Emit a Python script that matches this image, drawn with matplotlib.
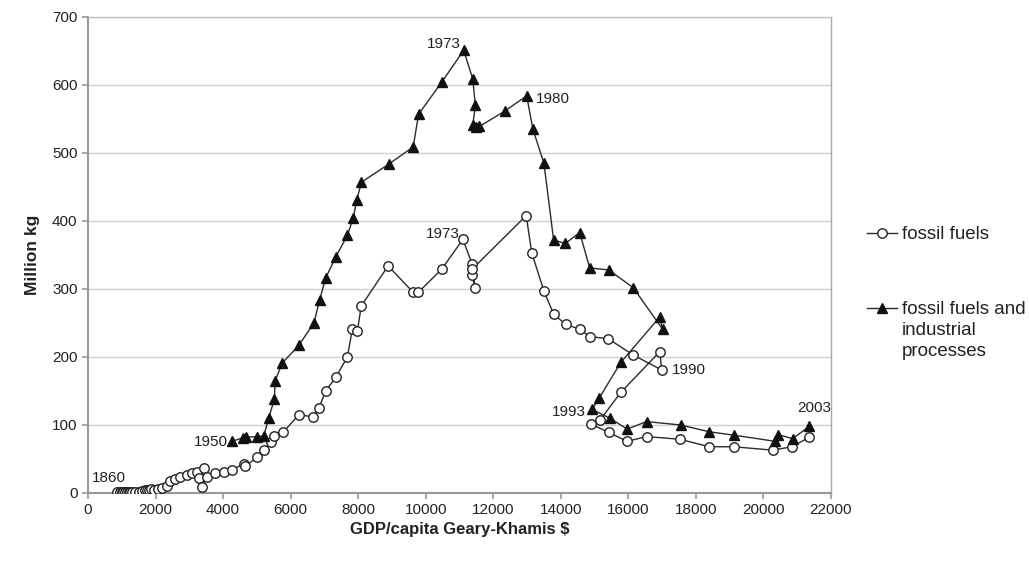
import matplotlib
matplotlib.use('Agg')
import matplotlib.pyplot as plt
import matplotlib.ticker as ticker
from matplotlib.lines import Line2D

plt.rcParams['font.family'] = ['Liberation Sans', 'DejaVu Sans']

# fossil fuels (open circles), in time order 1860 -> 2003
ff_gdp = [871, 950, 1000, 1050, 1100, 1150, 1200, 1250, 1300, 1400, 1500, 1600,
          1700, 1750, 1800, 1860, 1960, 2060, 2190, 2340, 2435, 2580, 2730, 2930,
          3080, 3230, 3440, 3280, 3375, 3520, 3770, 4020, 4266, 4610, 4662, 5009,
          5220, 5420, 5502, 5770, 6245, 6671, 6838, 7037, 7334, 7680, 7828, 7976,
          8090, 8887, 9610, 9778, 10471, 11100, 11372, 11461, 11372, 11372, 12975,
          13140, 13500, 13787, 14143, 14560, 14855, 15400, 16142, 16983, 16934,
          15776, 15172, 14905, 15420, 15965, 16538, 17527, 18397, 19130, 20270,
          20843, 21358]
ff_val = [1, 1, 1, 1, 2, 1, 2, 2, 2, 1, 2, 3,
          4, 4, 5, 6, 5, 6, 8, 10, 18, 21, 24, 26,
          29, 31, 37, 22, 9, 23, 30, 31, 34, 43, 39, 53,
          63, 75, 84, 89, 115, 112, 125, 150, 170, 200, 241, 238,
          275, 334, 296, 295, 329, 373, 337, 302, 320, 329, 408,
          353, 297, 263, 248, 241, 230, 227, 203, 181, 208,
          148, 108, 101, 89, 76, 83, 79, 68, 68, 63,
          68, 82]

# fossil fuels and industrial processes (filled triangles), 1950 -> 2003
fi_gdp = [4266, 4580, 4680, 5009, 5206, 5355, 5520, 5540, 5751, 6240, 6690, 6859,
          7037, 7334, 7680, 7858, 7957, 8096, 8916, 9630, 9788, 10471, 11125,
          11392, 11470, 11392, 11480, 11590, 12351, 12990, 13173, 13500, 13787,
          14133, 14560, 14855, 15420, 16142, 17013, 16934, 15776, 15130, 14925,
          15450, 15965, 16538, 17550, 18397, 19130, 20347, 20420, 20863, 21358]
fi_val = [76, 81, 82, 83, 84, 111, 138, 165, 191, 217, 250, 284,
          316, 347, 379, 405, 431, 457, 484, 509, 557, 604, 651,
          609, 570, 541, 538, 539, 562, 584, 535, 485, 372,
          367, 383, 331, 328, 302, 241, 259, 192, 139, 123,
          110, 94, 105, 100, 90, 85, 76, 86, 80, 98]

# year labels: (text, series, index, offset px, ha, va)
year_labels = [
    ('1860', 'ff', 0, (-9, 7), 'center', 'bottom'),
    ('1950', 'fi', 0, (-4, -1), 'right', 'center'),
    ('1973', 'fi', 22, (-3, 6), 'right', 'center'),
    ('1973', 'ff', 53, (-3, 5), 'right', 'center'),
    ('1980', 'fi', 29, (9, -3), 'left', 'center'),
    ('1990', 'ff', 67, (10, 0), 'left', 'center'),
    ('1993', 'fi', 42, (-6, -3), 'right', 'center'),
    ('2003', 'fi', 52, (5, 11), 'center', 'bottom'),
]

W, H = 1029, 561
fig = plt.figure(figsize=(W / 100, H / 100), dpi=100)
ax = fig.add_axes([88 / W, 1 - 493 / H, (831 - 88) / W, (493 - 17) / H])

ff_style = dict(color='#2a2a2a', linewidth=1.0, marker='o', markersize=6.8,
                markerfacecolor='white', markeredgecolor='#222222', markeredgewidth=1.0)
fi_style = dict(color='#2a2a2a', linewidth=1.0, marker='^', markersize=7.5,
                markerfacecolor='#111111', markeredgecolor='#111111')

ax.plot(ff_gdp, ff_val, zorder=3, **ff_style)
ax.plot(fi_gdp, fi_val, zorder=4, **fi_style)

series = {'ff': (ff_gdp, ff_val), 'fi': (fi_gdp, fi_val)}
for txt, s, i, off, ha, va in year_labels:
    xs, ys = series[s]
    ax.annotate(txt, xy=(xs[i], ys[i]), xytext=off, textcoords='offset pixels',
                ha=ha, va=va, fontsize=11, color='#222222')

ax.set_xlim(0, 22000)
ax.set_ylim(0, 700)
ax.xaxis.set_major_locator(ticker.MultipleLocator(2000))
ax.yaxis.set_major_locator(ticker.MultipleLocator(100))
ax.tick_params(axis='both', labelsize=11, colors='#999999', labelcolor='#222222',
               length=4, width=1.2, direction='out')

ax.grid(True, axis='y', color='#d0d0d0', linewidth=1.0)
ax.set_axisbelow(True)
for side in ['left', 'bottom']:
    ax.spines[side].set_color('#999999')
    ax.spines[side].set_linewidth(1.5)
ax.spines['right'].set_color('#aaaaaa')
ax.spines['right'].set_linewidth(1.0)
ax.spines['top'].set_color('#c0c0c0')
ax.spines['top'].set_linewidth(1.0)

ax.set_xlabel('GDP/capita Geary-Khamis $', fontsize=12, fontweight='bold',
              color='#222222', labelpad=3)
ax.set_ylabel('Million kg', fontsize=12.5, fontweight='bold', color='#222222',
              labelpad=9)

# legend drawn by hand so the handle sits on the first line of a multi-line label
legend_items = [('fossil fuels', ff_style, 233),
                ('fossil fuels and\nindustrial\nprocesses', fi_style, 308)]
for label, style, ypx in legend_items:
    yf = 1 - ypx / H
    fig.add_artist(Line2D([867 / W, 897 / W], [yf, yf], transform=fig.transFigure,
                          color=style['color'], linewidth=1.0))
    fig.add_artist(Line2D([882 / W], [yf], transform=fig.transFigure, linestyle='none',
                          marker=style['marker'], markersize=style['markersize'],
                          markerfacecolor=style['markerfacecolor'],
                          markeredgecolor=style['markeredgecolor']))
    fig.text(902 / W, yf + 7 / H, label, ha='left', va='top', fontsize=13.5,
             color='#222222', linespacing=1.32)

fig.savefig('out.png', dpi=100)
